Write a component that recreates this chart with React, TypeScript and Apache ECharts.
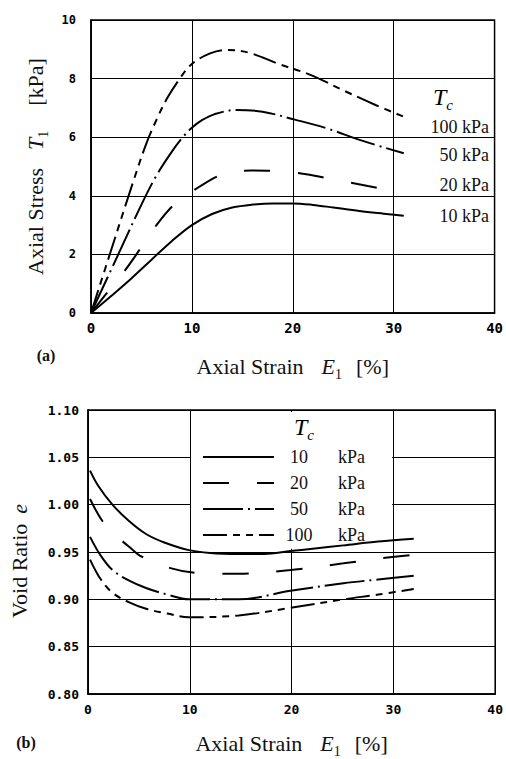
import { useEffect, useRef } from "react";
import * as echarts from "echarts";

// ---- data ----
const pressures = ["10 kPa", "20 kPa", "50 kPa", "100 kPa"];
const strainTicks = [0, 10, 20, 30, 40];

// (a) Axial stress T1 [kPa] vs axial strain E1 [%]
const stress10 = [[0, 0], [2, 0.58], [4, 1.18], [6, 1.82], [8, 2.45], [10, 3.0], [12, 3.38], [14, 3.6], [16, 3.7], [18, 3.74], [20, 3.74], [22, 3.69], [24, 3.6], [26.6, 3.48], [29, 3.39], [31, 3.32]];
const stress20 = [[0, 0], [1.5, 0.65], [3.4, 1.47], [4.9, 2.2], [6.6, 3.05], [8.4, 3.75], [10.7, 4.3], [13.1, 4.74], [15.8, 4.86], [18.5, 4.84], [21.5, 4.73], [24, 4.56], [26.8, 4.38], [29.4, 4.2]];
const stress50 = [[0, 0], [2.5, 1.85], [5, 3.7], [6.5, 4.7], [8, 5.5], [9.1, 6.0], [10, 6.32], [11, 6.58], [12.2, 6.78], [14.4, 6.93], [17, 6.87], [20.2, 6.6], [23.4, 6.3], [26.7, 5.9], [31, 5.45]];
const stress100 = [[0, 0], [2, 2.15], [4.2, 4.5], [5.5, 5.8], [6.5, 6.6], [7.5, 7.3], [8.8, 8.0], [10, 8.5], [11.8, 8.86], [13.4, 8.98], [15.7, 8.88], [18.6, 8.5], [21.8, 8.12], [25, 7.6], [28.2, 7.1], [31, 6.7]];

// (b) Void ratio e vs axial strain E1 [%]
const void10 = [[0.2, 1.036], [1, 1.02], [2.4, 1.0], [4, 0.983], [5.7, 0.969], [7.5, 0.96], [9.9, 0.952], [12, 0.949], [14.8, 0.948], [17.3, 0.948], [19.9, 0.951], [22.5, 0.954], [25.1, 0.957], [28.5, 0.961], [32, 0.964]];
const void20 = [[0.2, 1.006], [1.4, 0.983], [2.7, 0.968], [4.1, 0.955], [5.3, 0.945], [8.1, 0.933], [10.6, 0.928], [14.8, 0.927], [19.9, 0.931], [25.1, 0.938], [28.5, 0.943], [32, 0.947]];
const void50 = [[0.2, 0.966], [1.2, 0.947], [2.4, 0.931], [4, 0.92], [5.7, 0.912], [7.8, 0.905], [9.9, 0.9], [14.8, 0.9], [19.9, 0.909], [25.1, 0.917], [28.5, 0.921], [32, 0.925]];
const void100 = [[0.2, 0.942], [1.2, 0.922], [2.4, 0.907], [4, 0.897], [5.7, 0.89], [7.8, 0.885], [9.9, 0.881], [14.8, 0.883], [19.9, 0.891], [25.1, 0.9], [28.5, 0.905], [32, 0.911]];

const stressSeries = [stress10, stress20, stress50, stress100];
const voidSeries = [void10, void20, void50, void100];

// ---- styles ----
const dashes: any[] = ["solid", [26, 28], [40, 5, 2, 5], [24, 6, 7, 6, 7, 6]];
const SERIF = "Liberation Serif";
const TICKFONT = "DejaVu Sans Mono";
const INK = "#111";

const base = { fontFamily: SERIF, fontSize: 22, color: INK, lineHeight: 30, verticalAlign: "middle" };
const richName = {
  t: { ...base },
  i: { ...base, fontStyle: "italic", padding: [0, 0, 0, 18] },
  e: { ...base, fontStyle: "italic", padding: [0, 0, 0, 10] },
  s: { fontFamily: SERIF, fontSize: 14, color: INK, lineHeight: 18, verticalAlign: "bottom" },
  u: { ...base, padding: [0, 0, 0, 14] },
  k: { ...base, padding: [0, 0, 0, 25] },
};
const richTc = {
  i: { fontFamily: SERIF, fontSize: 24, fontStyle: "italic", color: INK, lineHeight: 30, verticalAlign: "middle" },
  s: { fontFamily: SERIF, fontSize: 15, fontStyle: "italic", color: INK, lineHeight: 18, verticalAlign: "bottom" },
};

function xAxisCfg(gridIndex: number, fontSize: number, margin: number, nameGap: number) {
  return {
    type: "value",
    gridIndex,
    min: strainTicks[0],
    max: strainTicks[strainTicks.length - 1],
    interval: 10,
    axisLine: { show: true, lineStyle: { color: "#000", width: 1.5 } },
    axisTick: { show: false },
    splitLine: { show: true, lineStyle: { color: "#000", width: 1 } },
    axisLabel: { fontFamily: TICKFONT, fontWeight: "bold", fontSize, color: "#000", margin },
    name: "{t|Axial Strain}{i|E}{s|1}{u|[%]}",
    nameLocation: "middle",
    nameGap,
    nameTextStyle: { rich: richName },
  };
}

export default function App() {
  const ref = useRef<HTMLDivElement>(null);
  useEffect(() => {
    if (!ref.current) return;
    const chart = echarts.init(ref.current, undefined, { renderer: "svg" });

    const series: any[] = [];
    // white box behind legend in (b)
    series.push({
      type: "line",
      name: "box",
      xAxisIndex: 1,
      yAxisIndex: 1,
      data: [],
      z: 1,
      silent: true,
      markArea: {
        silent: true,
        itemStyle: { color: "#fff", opacity: 1 },
        data: [[{ coord: [10.12, 0.9535] }, { coord: [29.88, 1.098] }]],
      },
    });
    const lineCommon = {
      type: "line",
      smooth: 0.35,
      showSymbol: false,
      symbol: "none",
      itemStyle: { color: "#000", opacity: 0 },
      z: 3,
    };
    pressures.forEach((p, k) => {
      series.push({
        ...lineCommon,
        name: p,
        xAxisIndex: 0,
        yAxisIndex: 0,
        data: stressSeries[k],
        lineStyle: { color: "#000", width: 2, type: dashes[k] },
      });
    });
    pressures.forEach((p, k) => {
      series.push({
        ...lineCommon,
        name: p,
        xAxisIndex: 1,
        yAxisIndex: 1,
        data: voidSeries[k],
        lineStyle: { color: "#000", width: 2, type: dashes[k] },
      });
    });

    const labelYs = [216, 185, 155, 127];
    const graphic: any[] = [
      {
        type: "text",
        x: 443,
        y: 97,
        style: { text: "{i|T}{s|c}", rich: richTc, align: "center", verticalAlign: "middle" },
        z: 10,
      },
      ...pressures.map((p, k) => ({
        type: "text",
        x: 489,
        y: labelYs[k],
        style: { text: p, fontFamily: SERIF, fontSize: 18, fill: INK, align: "right", verticalAlign: "middle" },
        z: 10,
      })),
      {
        type: "text",
        x: 304,
        y: 427,
        style: { text: "{i|T}{s|c}", rich: richTc, align: "center", verticalAlign: "middle" },
        z: 10,
      },
      {
        type: "text",
        x: 46,
        y: 355,
        style: { text: "(a)", fontFamily: SERIF, fontWeight: "bold", fontSize: 16, fill: INK, align: "center", verticalAlign: "middle" },
      },
      {
        type: "text",
        x: 26,
        y: 742,
        style: { text: "(b)", fontFamily: SERIF, fontWeight: "bold", fontSize: 16, fill: INK, align: "center", verticalAlign: "middle" },
      },
    ];

    chart.setOption({
      animation: false,
      backgroundColor: "#fff",
      grid: [
        { left: 91, top: 20, width: 413, height: 293, show: true, borderColor: "#000", borderWidth: 1.5 },
        { left: 88, top: 410, width: 411, height: 290, show: true, borderColor: "#000", borderWidth: 1.5 },
      ],
      xAxis: [xAxisCfg(0, 14, 8, 38), xAxisCfg(1, 13, 9, 34)],
      yAxis: [
        {
          type: "value",
          gridIndex: 0,
          min: 0,
          max: 10,
          interval: 2,
          axisLine: { show: true, lineStyle: { color: "#000", width: 1.5 } },
          axisTick: { show: false },
          splitLine: { show: true, lineStyle: { color: "#000", width: 1 } },
          axisLabel: { fontFamily: TICKFONT, fontWeight: "bold", fontSize: 12, color: "#000", margin: 15 },
          name: "{t|Axial Stress}{i|T}{s|1}{k|[kPa]}",
          nameLocation: "middle",
          nameGap: 40,
          nameTextStyle: { rich: richName },
        },
        {
          type: "value",
          gridIndex: 1,
          min: 0.8,
          max: 1.1,
          interval: 0.05,
          axisLine: { show: true, lineStyle: { color: "#000", width: 1.5 } },
          axisTick: { show: false },
          splitLine: { show: true, lineStyle: { color: "#000", width: 1 } },
          axisLabel: {
            fontFamily: TICKFONT,
            fontWeight: "bold",
            fontSize: 13,
            color: "#000",
            margin: 9,
            formatter: (v: number) => v.toFixed(2),
          },
          name: "{t|Void Ratio}{e|e}",
          nameLocation: "middle",
          nameGap: 54,
          nameTextStyle: { rich: richName, padding: [0, 0, 0, -18] },
        },
      ],
      legend: {
        data: pressures,
        orient: "vertical",
        left: 197,
        top: 443,
        itemWidth: 71,
        itemHeight: 14,
        itemGap: 8,
        selectedMode: false,
        backgroundColor: "transparent",
        itemStyle: { opacity: 0 },
        formatter: (name: string) => `{n|${name.split(" ")[0]}}{u|kPa}`,
        textStyle: {
          fontFamily: SERIF,
          fontSize: 18,
          color: INK,
          rich: {
            n: { fontFamily: SERIF, fontSize: 18, color: INK, width: 40, align: "right", lineHeight: 20 },
            u: { fontFamily: SERIF, fontSize: 18, color: INK, padding: [0, 0, 0, 19], lineHeight: 20 },
          },
        },
      },
      graphic,
      series,
    });

    return () => chart.dispose();
  }, []);

  return (
    <div
      ref={ref}
      style={{ position: "absolute", left: 0, top: 0, width: 506, height: 759, background: "#fff" }}
    />
  );
}
